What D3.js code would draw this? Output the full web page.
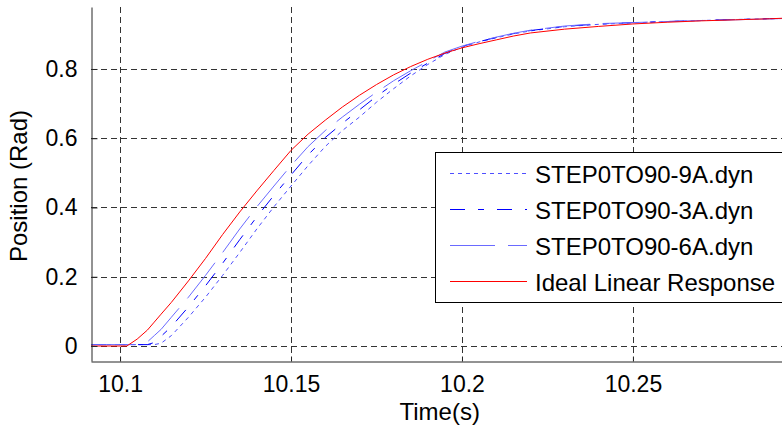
<!DOCTYPE html>
<html>
<head>
<meta charset="utf-8">
<script src="https://cdn.jsdelivr.net/npm/d3@7"></script>
<style>
  body { margin: 0; background: #fff; }
  text { font-family: Arial, "Liberation Sans", sans-serif; fill: #000; }
</style>
</head>
<body>
<svg id="chart"></svg>
<script>
// Chart size and plot box
const width = 782;
const height = 428;
const plot = { left: 91, right: 782, top: 7, bottom: 361 };

// Data
const times = [10.0915, 10.100, 10.102, 10.105, 10.108, 10.110, 10.112, 10.115, 10.120, 10.125,
  10.130, 10.135, 10.140, 10.145, 10.150, 10.155, 10.160, 10.165, 10.170, 10.175,
  10.180, 10.185, 10.190, 10.195, 10.200, 10.205, 10.210, 10.215, 10.220, 10.230,
  10.240, 10.250, 10.260, 10.270, 10.280, 10.290, 10.295];

const step9A = [0.004, 0.004, 0.004, 0.004, 0.004, 0.004, 0.008, 0.030, 0.083, 0.141,
  0.204, 0.270, 0.338, 0.402, 0.462, 0.521, 0.576, 0.622, 0.661, 0.704,
  0.743, 0.780, 0.813, 0.842, 0.863, 0.878, 0.890, 0.901, 0.910, 0.922,
  0.929, 0.933, 0.937, 0.940, 0.943, 0.945, 0.946];

const step3A = [0.004, 0.004, 0.004, 0.004, 0.004, 0.010, 0.028, 0.056, 0.113, 0.174,
  0.239, 0.307, 0.373, 0.435, 0.494, 0.552, 0.602, 0.643, 0.682, 0.721,
  0.756, 0.788, 0.817, 0.845, 0.865, 0.879, 0.891, 0.902, 0.911, 0.923,
  0.930, 0.934, 0.937, 0.940, 0.943, 0.945, 0.946];

const step6A = [0.004, 0.004, 0.004, 0.004, 0.012, 0.030, 0.048, 0.083, 0.141, 0.204,
  0.270, 0.338, 0.402, 0.462, 0.521, 0.576, 0.622, 0.661, 0.698, 0.733,
  0.766, 0.795, 0.822, 0.849, 0.866, 0.880, 0.892, 0.903, 0.912, 0.924,
  0.931, 0.934, 0.937, 0.940, 0.942, 0.945, 0.946];

const ideal = [0, 0, 0, 0.020, 0.046, 0.069, 0.092, 0.126, 0.188, 0.253,
  0.322, 0.387, 0.448, 0.507, 0.565, 0.612, 0.652, 0.690, 0.724, 0.755,
  0.783, 0.807, 0.828, 0.846, 0.861, 0.873, 0.884, 0.895, 0.904, 0.915,
  0.923, 0.930, 0.935, 0.939, 0.942, 0.945, 0.947];

const xTicks = [10.1, 10.15, 10.2, 10.25];
const yTicks = [0, 0.2, 0.4, 0.6, 0.8];

const series = [
  { name: "STEP0TO90-9A.dyn", values: step9A, color: "#4f4fff", dash: "4,4" },
  { name: "STEP0TO90-3A.dyn", values: step3A, color: "#0000ff", dash: "15,13,6,13" },
  { name: "STEP0TO90-6A.dyn", values: step6A, color: "#6a6aff", dash: "45,13" },
  { name: "Ideal Linear Response", values: ideal, color: "#ff0000", dash: null }
];

const svg = d3.select("#chart")
  .attr("width", width)
  .attr("height", height);

// Scales
const x = d3.scaleLinear()
  .domain([10.0915, 10.2936])
  .range([plot.left, plot.right]);

const y = d3.scaleLinear()
  .domain([-0.0433, 0.979])
  .range([plot.bottom, plot.top]);

svg.append("clipPath").attr("id", "clip")
  .append("rect")
  .attr("x", plot.left).attr("y", plot.top)
  .attr("width", plot.right - plot.left).attr("height", plot.bottom - plot.top);

// Grid
const grid = svg.append("g")
  .attr("stroke", "#333")
  .attr("stroke-width", 1)
  .attr("stroke-dasharray", "6,4");

grid.selectAll(".vgrid")
  .data(xTicks)
  .enter()
  .append("line")
  .attr("x1", d => Math.round(x(d)) + 0.5)
  .attr("x2", d => Math.round(x(d)) + 0.5)
  .attr("y1", plot.top)
  .attr("y2", plot.bottom);

grid.selectAll(".hgrid")
  .data(yTicks)
  .enter()
  .append("line")
  .attr("x1", plot.left)
  .attr("x2", plot.right)
  .attr("y1", d => Math.round(y(d)) + 0.5)
  .attr("y2", d => Math.round(y(d)) + 0.5);

// Lines
const line = d3.line()
  .x((d, i) => x(times[i]))
  .y(d => y(d));

svg.append("g")
  .attr("clip-path", "url(#clip)")
  .selectAll("path")
  .data(series)
  .enter()
  .append("path")
  .attr("fill", "none")
  .attr("stroke", d => d.color)
  .attr("stroke-width", 1)
  .attr("stroke-dasharray", d => d.dash)
  .attr("d", d => line(d.values));

// Axes
const xAxis = svg.append("g")
  .attr("transform", `translate(0, ${plot.bottom + 0.5})`)
  .call(d3.axisBottom(x).tickValues(xTicks).tickSizeInner(-5).tickSizeOuter(0).tickPadding(14)
    .tickFormat(d3.format("")));

const yAxis = svg.append("g")
  .attr("transform", `translate(${plot.left + 0.5}, 0)`)
  .call(d3.axisLeft(y).tickValues(yTicks).tickSizeInner(-6).tickSizeOuter(0).tickPadding(14)
    .tickFormat(d => d === 0 ? "0" : d3.format(".1f")(d)));

[xAxis, yAxis].forEach(a => {
  a.select(".domain").attr("stroke", "#262626");
  a.selectAll(".tick line").attr("stroke", "#262626");
  a.selectAll(".tick text").attr("font-size", 23).attr("font-family", "Arial, 'Liberation Sans', sans-serif");
});
xAxis.selectAll(".tick text").attr("dy", "0.71em");

// Axis labels
svg.append("text")
  .attr("x", x(10.1935))
  .attr("y", 420)
  .attr("text-anchor", "middle")
  .attr("font-size", 24)
  .text("Time(s)");

svg.append("text")
  .attr("transform", `translate(27, 186) rotate(-90)`)
  .attr("text-anchor", "middle")
  .attr("font-size", 24)
  .text("Position (Rad)");

// Legend
const legend = svg.append("g");

legend.append("rect")
  .attr("x", 435.5)
  .attr("y", 152.5)
  .attr("width", 400)
  .attr("height", 150)
  .attr("fill", "#fff")
  .attr("stroke", "#000");

const rows = legend.selectAll(".row")
  .data(series)
  .enter()
  .append("g")
  .attr("transform", (d, i) => `translate(0, ${173 + i * 36})`);

rows.append("line")
  .attr("x1", 450)
  .attr("x2", 527)
  .attr("y1", 0.5)
  .attr("y2", 0.5)
  .attr("stroke", d => d.color)
  .attr("stroke-width", 1.2)
  .attr("stroke-dasharray", d => d.dash);

rows.append("text")
  .attr("x", 535)
  .attr("y", 9.5)
  .attr("font-size", 24)
  .text(d => d.name);
</script>
</body>
</html>
